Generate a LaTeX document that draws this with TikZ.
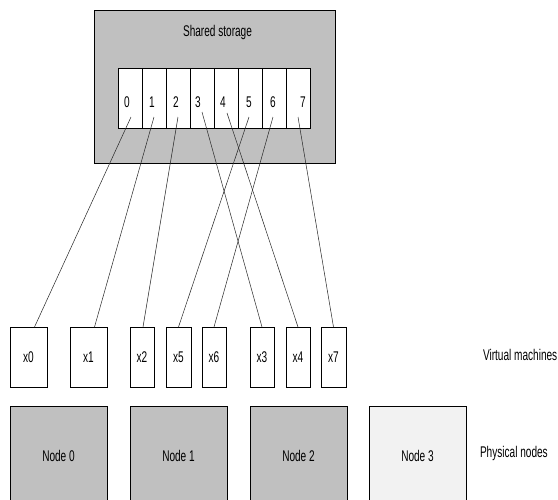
\documentclass[tikz,border=0pt]{standalone}
\usepackage{fontspec}
\setmainfont[FakeStretch=0.65]{Liberation Sans}
\begin{document}
\begin{tikzpicture}[x=1pt,y=-1pt,
  every node/.style={font=\fontsize{15.5}{18}\selectfont, inner sep=0pt, outer sep=0pt},
  txt/.style={anchor=base},
  box/.style={draw=black, line width=0.8pt, anchor=north west},
  storage/.style={box, fill=storagegray, minimum width=241pt, minimum height=153pt},
  cell/.style={box, fill=white, minimum width=24pt, minimum height=60pt},
  vm/.style={box, fill=white, minimum height=60pt},
  phys/.style={box, fill=storagegray, minimum width=97pt, minimum height=98pt},
  link/.style={draw=black!85, line width=0.5pt}]
\definecolor{storagegray}{HTML}{C0C0C0}
\definecolor{lightgray}{HTML}{F2F2F2}
\clip (0,0) rectangle (558,499);
\fill[white] (0,0) rectangle (558,499);
% shared storage
\node[storage] (ss) at (94,10) {};
\node[txt] (sslabel) at (217.5,36) {Shared storage};
% cells
\foreach \i in {0,...,7} {
  \node[cell] (c\i) at ({118+24*\i},68) {};
}
\node[txt] (l0) at (127,107) {0};
\node[txt] (l1) at (152,107) {1};
\node[txt] (l2) at (176,107) {2};
\node[txt] (l3) at (198,107) {3};
\node[txt] (l4) at (223,107) {4};
\node[txt] (l5) at (249,107) {5};
\node[txt] (l6) at (273,107) {6};
\node[txt] (l7) at (303,107) {7};
% virtual machines
\node[vm, minimum width=37pt] (v0) at (10,327) {};
\node[vm, minimum width=37pt] (v1) at (70,327) {};
\node[vm, minimum width=24pt] (v2) at (130,327) {};
\node[vm, minimum width=25pt] (v5) at (166,327) {};
\node[vm, minimum width=24pt] (v6) at (202,327) {};
\node[vm, minimum width=24pt] (v3) at (250,327) {};
\node[vm, minimum width=24pt] (v4) at (286,327) {};
\node[vm, minimum width=25pt] (v7) at (321,327) {};
\foreach \n/\t in {v0/x0,v1/x1,v2/x2,v5/x5,v6/x6,v3/x3,v4/x4,v7/x7} {
  \node[txt] (t\n) at (\n.center |- 0,362) {\t};
}
% physical nodes
\node[phys] (p0) at (10,406) {};
\node[phys] (p1) at (130,406) {};
\node[phys] (p2) at (250,406) {};
\node[phys, fill=lightgray] (p3) at (369,406) {};
\node[txt] (tp0) at (58.5,461) {Node 0};
\node[txt] (tp1) at (178.5,461) {Node 1};
\node[txt] (tp2) at (298.5,461) {Node 2};
\node[txt] (tp3) at (417.5,461) {Node 3};
% row labels
\node[anchor=base west] (lvm) at (483,360) {Virtual machines};
\node[anchor=base west] (lpn) at (480,457) {Physical nodes};
% connectors
\coordinate (s0) at (131,117);
\coordinate (s1) at (154,117);
\coordinate (s2) at (178,117);
\coordinate (s3) at (202,112);
\coordinate (s4) at (227,113);
\coordinate (s5) at (249,117);
\coordinate (s6) at (273,117);
\coordinate (s7) at (298,117);
\draw[link] (s0) -- ([xshift=6pt]v0.north);
\draw[link] (s1) -- ([xshift=6pt]v1.north);
\draw[link] (s2) -- ([xshift=1pt]v2.north);
\draw[link] (s3) -- (v3.north);
\draw[link] (s4) -- (v4.north);
\draw[link] (s5) -- (v5.north);
\draw[link] (s6) -- (v6.north);
\draw[link] (s7) -- (v7.north);
\end{tikzpicture}
\end{document}
